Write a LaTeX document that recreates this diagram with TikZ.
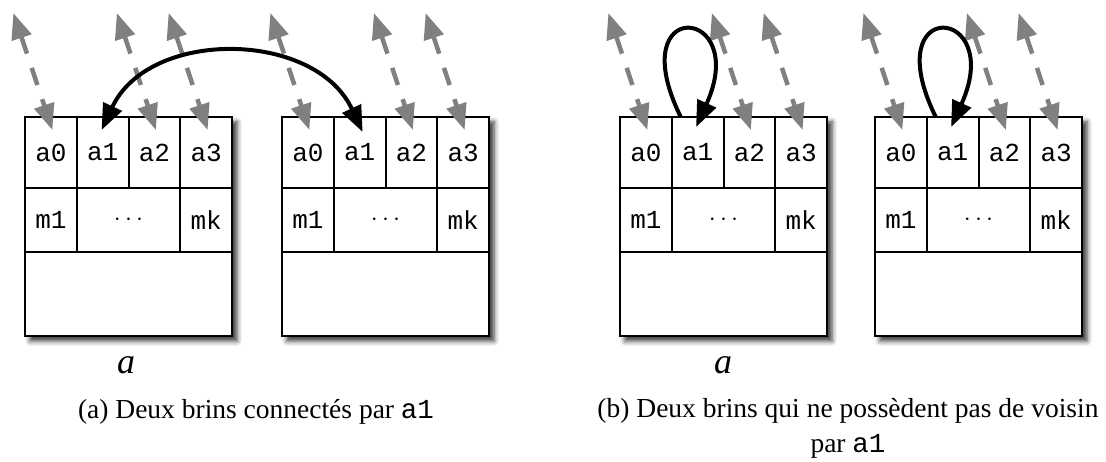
\documentclass[tikz,border=0pt]{standalone}
\usepackage{fontspec}
\setmainfont{Liberation Serif}
\setmonofont{Liberation Mono}
\usetikzlibrary{positioning,arrows.meta,calc,shadows.blur}
\tikzset{
  frame/.style={draw, line width=2pt, fill=white, minimum width=207pt,
    minimum height=219pt, inner sep=0pt, outer sep=0pt, anchor=south west,
    blur shadow={shadow xshift=5pt, shadow yshift=-5pt,
      shadow blur radius=5pt, shadow opacity=80}},
  cell/.style={draw, line width=2pt, minimum width=51.75pt, inner sep=0pt,
    outer sep=0pt, font=\fontsize{26}{26}\selectfont\ttfamily},
  link/.style={{Triangle[length=26pt,width=20pt]}-{Triangle[length=26pt,width=20pt]},
    gray, line width=4.5pt, dash pattern=on 18pt off 15pt},
  pair/.style={{Triangle[length=26pt,width=20pt]}-{Triangle[length=26pt,width=20pt]},
    line width=4pt},
  loopy/.style={-{Triangle[length=26pt,width=20pt]}, line width=4pt},
  caption/.style={font=\fontsize{27.5}{35}\selectfont, anchor=base},
}
% one strand: #1 name, #2 left x
\newcommand{\brin}[2]{%
  \node[frame] (#1) at (#2,126) {};
  \node[cell, minimum height=71pt, anchor=north west] (#1-a0) at (#1.north west) {a0};
  \node[cell, minimum height=71pt, right=0pt of #1-a0] (#1-a1) {a1};
  \node[cell, minimum height=71pt, right=0pt of #1-a1] (#1-a2) {a2};
  \node[cell, minimum height=71pt, right=0pt of #1-a2] (#1-a3) {a3};
  \node[cell, minimum height=64pt, below=0pt of #1-a0] (#1-m1) {m1};
  \node[cell, minimum height=64pt, minimum width=103.5pt, right=0pt of #1-m1,
    font=\fontsize{30}{30}\selectfont] (#1-md) {$\cdots$};
  \node[cell, minimum height=64pt, right=0pt of #1-md] (#1-mk) {mk};
}

\begin{document}
\begin{tikzpicture}[x=1pt, y=1pt]
  \useasboundingbox (0,0) rectangle (1106,462);
  \brin{s1}{25}
  \brin{s2}{282}
  \brin{s3}{620}
  \brin{s4}{875}
  % neighbours that are not shown
  \foreach \s in {s1,s2,s3,s4}{
    \foreach \c in {a0,a2,a3}{
      \coordinate (\s-\c-in) at ($(\s-\c.north)+(1.5,-13)$);
      \coordinate (\s-\c-out) at ($(\s-\c-in)+(-39,117)$);
      \draw[link] (\s-\c-out) -- (\s-\c-in);
    }
  }
  % (a) linked by a1
  \coordinate (s1-p) at ($(s1-a1.north)+(-1,-13)$);
  \coordinate (s2-p) at ($(s2-a1.north)+(3,-15)$);
  \draw[pair] (s1-p) to[out=65, in=115, looseness=1.1] (s2-p);
  % (b) a1 fixed points
  \foreach \s in {s3,s4}{
    \coordinate (\s-l) at ($(\s-a1.north west)+(9,0)$);
    \coordinate (\s-e) at ($(\s-a1.north)+(-1.5,-10)$);
    \draw[loopy] (\s-l) .. controls +(-60,122) and +(55,122) .. (\s-e);
  }
  \node[font=\fontsize{36}{36}\selectfont\itshape] (la) at (126,97) {a};
  \node[font=\fontsize{36}{36}\selectfont\itshape] (lb) at (723,97) {a};
  \node[caption] (capa) at (256,43) {(a) Deux brins connectés par \texttt{a1}};
  \node[caption, align=center] (capb) at (848,9)
    {(b) Deux brins qui ne possèdent pas de voisin\\par \texttt{a1}};
\end{tikzpicture}
\end{document}
